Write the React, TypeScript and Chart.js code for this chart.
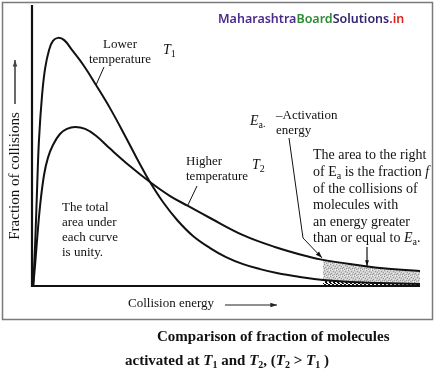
import { useEffect, useRef } from "react";
import { Chart, registerables } from "chart.js";

Chart.register(...registerables);

// Collision energy (0-100 arbitrary units) and fraction of collisions (0-100 arbitrary units)
const energyT1 = [0.3, 0.8, 1.3, 1.8, 2.6, 3.4, 4.4, 5.4, 6.7, 8.3, 10.3, 13.4, 16.5, 20.1, 24.0, 27.8, 30.4, 33.8, 37.4, 41.5, 45.9, 50.0, 54.4, 58.8, 63.1, 69.1, 75.0, 82.0, 89.7, 100];
const fractionT1 = [0, 14.6, 34.2, 52.0, 68.0, 77.6, 84.0, 87.2, 88.3, 87.5, 84.0, 78.3, 71.5, 63.3, 53.4, 43.4, 37.0, 29.8, 23.5, 17.8, 13.5, 10.3, 7.8, 6.0, 4.6, 3.2, 2.1, 1.4, 1.1, 0.7];
const energyT2 = [0.3, 0.8, 1.3, 2.1, 3.1, 4.1, 5.4, 7.2, 9.0, 11.1, 13.7, 16.5, 20.1, 25.3, 30.4, 35.6, 40.2, 45.9, 54.4, 62.6, 71.6, 75.0, 82.0, 89.7, 100];
const fractionT2 = [0, 7.5, 16.4, 28.8, 39.5, 45.6, 50.2, 54.1, 55.9, 56.6, 55.9, 53.5, 48.9, 42.6, 37.0, 32.0, 28.5, 24.2, 18.1, 13.9, 10.3, 9.3, 7.8, 6.4, 5.3];
const activationEnergy = 75;
const lowerPointerAt = { x: 16.5, y: 71.5 };
const higherPointerAt = { x: 40.2, y: 28.5 };

const SERIF = "'Liberation Serif', 'DejaVu Serif', serif";

type Run = { t: string; font: string; dy?: number; color?: string };

function drawRuns(ctx: CanvasRenderingContext2D, runs: Run[], x: number, y: number) {
  let cx = x;
  ctx.textAlign = "left";
  ctx.textBaseline = "middle";
  for (const r of runs) {
    ctx.font = r.font;
    ctx.fillStyle = r.color || "#111";
    ctx.fillText(r.t, cx, y + (r.dy || 0));
    cx += ctx.measureText(r.t).width;
  }
}

function text(ctx: CanvasRenderingContext2D, s: string, x: number, y: number, font: string, align: CanvasTextAlign = "left") {
  ctx.font = font;
  ctx.fillStyle = "#111";
  ctx.textAlign = align;
  ctx.textBaseline = "middle";
  ctx.fillText(s, x, y);
}

function arrowPath(ctx: CanvasRenderingContext2D, pts: [number, number][], head: number, width: number, color = "#111", withHead = true) {
  ctx.save();
  ctx.strokeStyle = color;
  ctx.fillStyle = color;
  ctx.lineWidth = width;
  ctx.beginPath();
  ctx.moveTo(pts[0][0], pts[0][1]);
  for (let i = 1; i < pts.length; i++) ctx.lineTo(pts[i][0], pts[i][1]);
  ctx.stroke();
  if (withHead) {
    const [x1, y1] = pts[pts.length - 2];
    const [x2, y2] = pts[pts.length - 1];
    const a = Math.atan2(y2 - y1, x2 - x1);
    ctx.beginPath();
    ctx.moveTo(x2, y2);
    ctx.lineTo(x2 - head * Math.cos(a - 0.33), y2 - head * Math.sin(a - 0.33));
    ctx.lineTo(x2 - head * Math.cos(a + 0.33), y2 - head * Math.sin(a + 0.33));
    ctx.closePath();
    ctx.fill();
  }
  ctx.restore();
}

function makeHatch(): CanvasPattern | string {
  const c = document.createElement("canvas");
  c.width = 4;
  c.height = 4;
  const g = c.getContext("2d");
  if (!g) return "#888";
  g.fillStyle = "#ffffff";
  g.fillRect(0, 0, 4, 4);
  g.fillStyle = "#111";
  g.fillRect(0, 0, 2, 1);
  g.fillRect(1, 1, 2, 1);
  g.fillRect(1, 2, 2, 1);
  g.fillRect(2, 3, 2, 1);
  const p = g.createPattern(c, "repeat");
  return p || "#888";
}

function makeStipple(): CanvasPattern | string {
  const c = document.createElement("canvas");
  c.width = 6;
  c.height = 6;
  const g = c.getContext("2d");
  if (!g) return "#ccc";
  g.fillStyle = "#cfcfcf";
  g.fillRect(0, 0, 6, 6);
  const dark = [[0, 0], [3, 1], [5, 2], [1, 3], [4, 4], [2, 5], [0, 4]];
  const light = [[2, 0], [5, 0], [0, 2], [3, 3], [5, 5], [1, 5]];
  g.fillStyle = "#9a9a9a";
  dark.forEach(([x, y]) => g.fillRect(x, y, 1, 1));
  g.fillStyle = "#ececec";
  light.forEach(([x, y]) => g.fillRect(x, y, 1, 1));
  const p = g.createPattern(c, "repeat");
  return p || "#ccc";
}

const decorPlugin = {
  id: "decor",
  afterDraw(chart: any) {
    const ctx: CanvasRenderingContext2D = chart.ctx;
    const { left, right, top, bottom } = chart.chartArea;
    const xs = chart.scales.x;
    const ys = chart.scales.y;
    ctx.save();

    // figure frame
    ctx.strokeStyle = "#7a7a7a";
    ctx.lineWidth = 1.5;
    ctx.strokeRect(2.5, 2.5, 430, 317);

    // axes
    ctx.strokeStyle = "#111";
    ctx.lineWidth = 2.2;
    ctx.beginPath();
    ctx.moveTo(left, top);
    ctx.lineTo(left, bottom);
    ctx.lineTo(right, bottom);
    ctx.stroke();

    // watermark
    const wm = "600 12.5px 'Noto Sans', 'Open Sans', sans-serif";
    drawRuns(ctx, [
      { t: "Maharashtra", font: wm, color: "#4b2a8c" },
      { t: "Board", font: wm, color: "#2e8b34" },
      { t: "Solutions", font: wm, color: "#33266e" },
      { t: ".in", font: wm, color: "#d8261e" },
    ], 218, 19);

    // y-axis title with arrow
    ctx.save();
    ctx.translate(15, 176);
    ctx.rotate(-Math.PI / 2);
    text(ctx, "Fraction of collisions", 0, 0, `15px ${SERIF}`, "center");
    ctx.restore();
    arrowPath(ctx, [[15, 104], [15, 60]], 7, 1.6, "#444");

    // x-axis title with arrow
    text(ctx, "Collision energy", 128, 304, `13px ${SERIF}`);
    arrowPath(ctx, [[225, 305], [277, 305]], 7, 1.2, "#222");

    // Lower temperature label
    const f13 = `13px ${SERIF}`;
    text(ctx, "Lower", 120, 45, f13, "center");
    text(ctx, "temperature", 120, 60, f13, "center");
    arrowPath(ctx, [[104, 67], [xs.getPixelForValue(lowerPointerAt.x), ys.getPixelForValue(lowerPointerAt.y)]], 0, 1, "#111", false);
    drawRuns(ctx, [
      { t: "T", font: `italic 14px ${SERIF}` },
      { t: "1", font: `10px ${SERIF}`, dy: 4 },
    ], 163, 50);

    // Higher temperature label
    text(ctx, "Higher", 186, 162, f13);
    text(ctx, "temperature", 186, 177, f13);
    arrowPath(ctx, [[197, 186], [xs.getPixelForValue(higherPointerAt.x), ys.getPixelForValue(higherPointerAt.y) - 1]], 0, 1, "#111", false);
    drawRuns(ctx, [
      { t: "T", font: `italic 14px ${SERIF}` },
      { t: "2", font: `10px ${SERIF}`, dy: 4 },
    ], 252, 165);

    // Activation energy label
    drawRuns(ctx, [
      { t: "E", font: `italic 14px ${SERIF}` },
      { t: "a", font: `10px ${SERIF}`, dy: 4 },
      { t: ".", font: `10px ${SERIF}`, dy: 3 },
    ], 250, 121);
    text(ctx, "\u2013Activation", 276, 116, f13);
    text(ctx, "energy", 276, 131, f13);
    const eaX = xs.getPixelForValue(activationEnergy);
    const idx = energyT2.indexOf(activationEnergy);
    const eaY = ys.getPixelForValue(fractionT2[idx]);
    arrowPath(ctx, [[289, 138], [303, 238], [eaX - 1, eaY - 2]], 7, 1, "#111");

    // explanation paragraph
    const fp = `14px ${SERIF}`;
    text(ctx, "The area to the right", 313, 155, fp);
    drawRuns(ctx, [
      { t: "of E", font: fp },
      { t: "a", font: `10px ${SERIF}`, dy: 4 },
      { t: " is the fraction ", font: fp },
      { t: "f", font: `italic 14px ${SERIF}` },
    ], 313, 172);
    text(ctx, "of the collisions of", 313, 189, fp);
    text(ctx, "molecules with", 313, 205, fp);
    text(ctx, "an energy greater", 313, 222, fp);
    drawRuns(ctx, [
      { t: "than or equal to ", font: fp },
      { t: "E", font: `italic 14px ${SERIF}` },
      { t: "a", font: `10px ${SERIF}`, dy: 4 },
      { t: ".", font: fp },
    ], 313, 238);
    arrowPath(ctx, [[367, 247], [367, 266]], 6, 1.2, "#111");

    // total area note
    text(ctx, "The total", 62, 208, f13);
    text(ctx, "area under", 62, 223, f13);
    text(ctx, "each curve", 62, 238, f13);
    text(ctx, "is unity.", 62, 253, f13);

    // caption
    const b15 = `bold 15px ${SERIF}`;
    const bi15 = `bold italic 15px ${SERIF}`;
    const bs = `bold 10px ${SERIF}`;
    text(ctx, "Comparison of fraction of molecules", 157, 337, b15);
    drawRuns(ctx, [
      { t: "activated at ", font: b15 },
      { t: "T", font: bi15 },
      { t: "1", font: bs, dy: 4 },
      { t: " and ", font: b15 },
      { t: "T", font: bi15 },
      { t: "2", font: bs, dy: 4 },
      { t: ", (", font: b15 },
      { t: "T", font: bi15 },
      { t: "2", font: bs, dy: 4 },
      { t: " > ", font: b15 },
      { t: "T", font: bi15 },
      { t: "1", font: bs, dy: 4 },
      { t: " )", font: b15 },
    ], 125, 361);

    ctx.restore();
  },
};

export default function App() {
  const ref = useRef<HTMLCanvasElement | null>(null);

  useEffect(() => {
    document.body.style.margin = "0";
    document.body.style.background = "#fff";
    const canvas = ref.current;
    if (!canvas) return;

    const t1 = energyT1.map((x, i) => ({ x, y: fractionT1[i] }));
    const t2 = energyT2.map((x, i) => ({ x, y: fractionT2[i] }));
    const t1Tail = t1.filter((p) => p.x >= activationEnergy);
    const t2Tail = t2.filter((p) => p.x >= activationEnergy);

    const chart = new Chart(canvas, {
      type: "line",
      data: {
        datasets: [
          { label: "T1", data: t1, borderColor: "#111", borderWidth: 2, fill: false, pointRadius: 0, tension: 0.4 },
          { label: "T2", data: t2, borderColor: "#111", borderWidth: 2, fill: false, pointRadius: 0, tension: 0.4 },
          { label: "T1 tail", data: t1Tail, borderWidth: 0, borderColor: "rgba(0,0,0,0)", backgroundColor: makeHatch() as any, fill: "origin", pointRadius: 0, tension: 0.4 },
          { label: "T2 tail", data: t2Tail, borderWidth: 0, borderColor: "rgba(0,0,0,0)", backgroundColor: makeStipple() as any, fill: 2, pointRadius: 0, tension: 0.4 },
        ],
      },
      options: {
        animation: false,
        responsive: false,
        devicePixelRatio: 1,
        layout: { padding: { left: 32, right: 17, top: 5, bottom: 87 } },
        scales: {
          x: { type: "linear", min: 0, max: 100, display: false },
          y: { type: "linear", min: 0, max: 100, display: false },
        },
        plugins: { legend: { display: false }, tooltip: { enabled: false }, title: { display: false } },
      },
      plugins: [decorPlugin],
    });
    return () => chart.destroy();
  }, []);

  return <canvas ref={ref} width={437} height={373} style={{ display: "block" }} />;
}
